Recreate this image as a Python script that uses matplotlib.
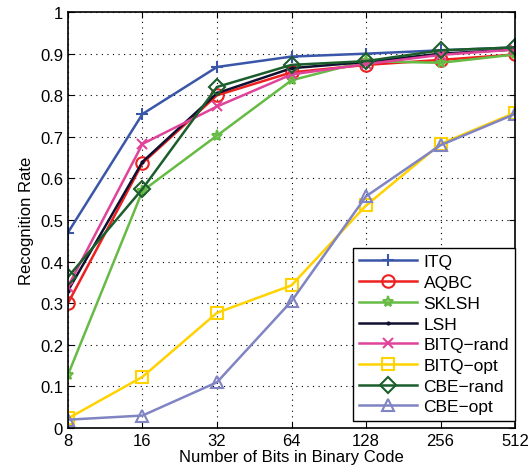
import matplotlib
matplotlib.use("Agg")
import matplotlib.pyplot as plt

plt.rcParams['font.family'] = ['Liberation Sans', 'DejaVu Sans']

bits = [8, 16, 32, 64, 128, 256, 512]
bit_labels = ['8', '16', '32', '64', '128', '256', '512']

itq = [0.47, 0.755, 0.868, 0.893, 0.900, 0.908, 0.915]
aqbc = [0.30, 0.637, 0.800, 0.855, 0.873, 0.885, 0.898]
sklsh = [0.128, 0.570, 0.703, 0.836, 0.882, 0.878, 0.898]
lsh = [0.33, 0.640, 0.805, 0.865, 0.880, 0.900, 0.910]
bitq_rand = [0.34, 0.683, 0.773, 0.850, 0.875, 0.897, 0.910]
bitq_opt = [0.023, 0.123, 0.277, 0.343, 0.535, 0.683, 0.758]
cbe_rand = [0.363, 0.575, 0.820, 0.873, 0.882, 0.908, 0.915]
cbe_opt = [0.020, 0.030, 0.110, 0.305, 0.557, 0.680, 0.755]

series = [
    ('ITQ', itq, '#3a56a8', '+', 9),
    ('AQBC', aqbc, '#ee2020', 'o', 9),
    ('SKLSH', sklsh, '#66bb44', '*', 8),
    ('LSH', lsh, '#101030', '.', 3),
    ('BITQ\u2212rand', bitq_rand, '#e0449a', 'x', 7),
    ('BITQ\u2212opt', bitq_opt, '#ffd200', 's', 8),
    ('CBE\u2212rand', cbe_rand, '#1b5e2c', 'D', 8),
    ('CBE\u2212opt', cbe_opt, '#8084c2', '^', 9),
]

fig = plt.figure(figsize=(5.31, 4.77), dpi=100)
ax = fig.add_axes([0.128, 0.1006, 0.842, 0.872])

x = list(range(len(bits)))
for name, vals, col, mk, ms in series:
    ax.plot(x, vals, color=col, marker=mk, markersize=ms, linewidth=1.8,
             markerfacecolor='none', markeredgecolor=col, markeredgewidth=1.5,
             label=name)

ax.set_xlim(0, len(bits) - 1)
ax.set_ylim(0, 1)
ax.set_xticks(x)
ax.set_xticklabels(bit_labels)
ax.set_yticks([i / 10 for i in range(11)])
ax.set_yticklabels(['0', '0.1', '0.2', '0.3', '0.4', '0.5', '0.6', '0.7', '0.8', '0.9', '1'])
ax.tick_params(direction='in', labelsize=12, top=True, right=True, length=4)
ax.grid(True, color='black', linestyle=(0, (1, 4)), linewidth=0.8)
ax.set_xlabel('Number of Bits in Binary Code', fontsize=12, labelpad=1)
ax.set_ylabel('Recognition Rate', fontsize=12)
for s in ax.spines.values():
    s.set_linewidth(1.2)

leg = ax.legend(loc='lower right', bbox_to_anchor=(1.0, 0.018), borderaxespad=0,
                fontsize=12.5, fancybox=False, framealpha=1,
                edgecolor='black', handlelength=3.3, borderpad=0.35,
                labelspacing=0.32, handletextpad=0.4)
leg.get_frame().set_linewidth(1.0)

fig.savefig('out.png', dpi=100)
